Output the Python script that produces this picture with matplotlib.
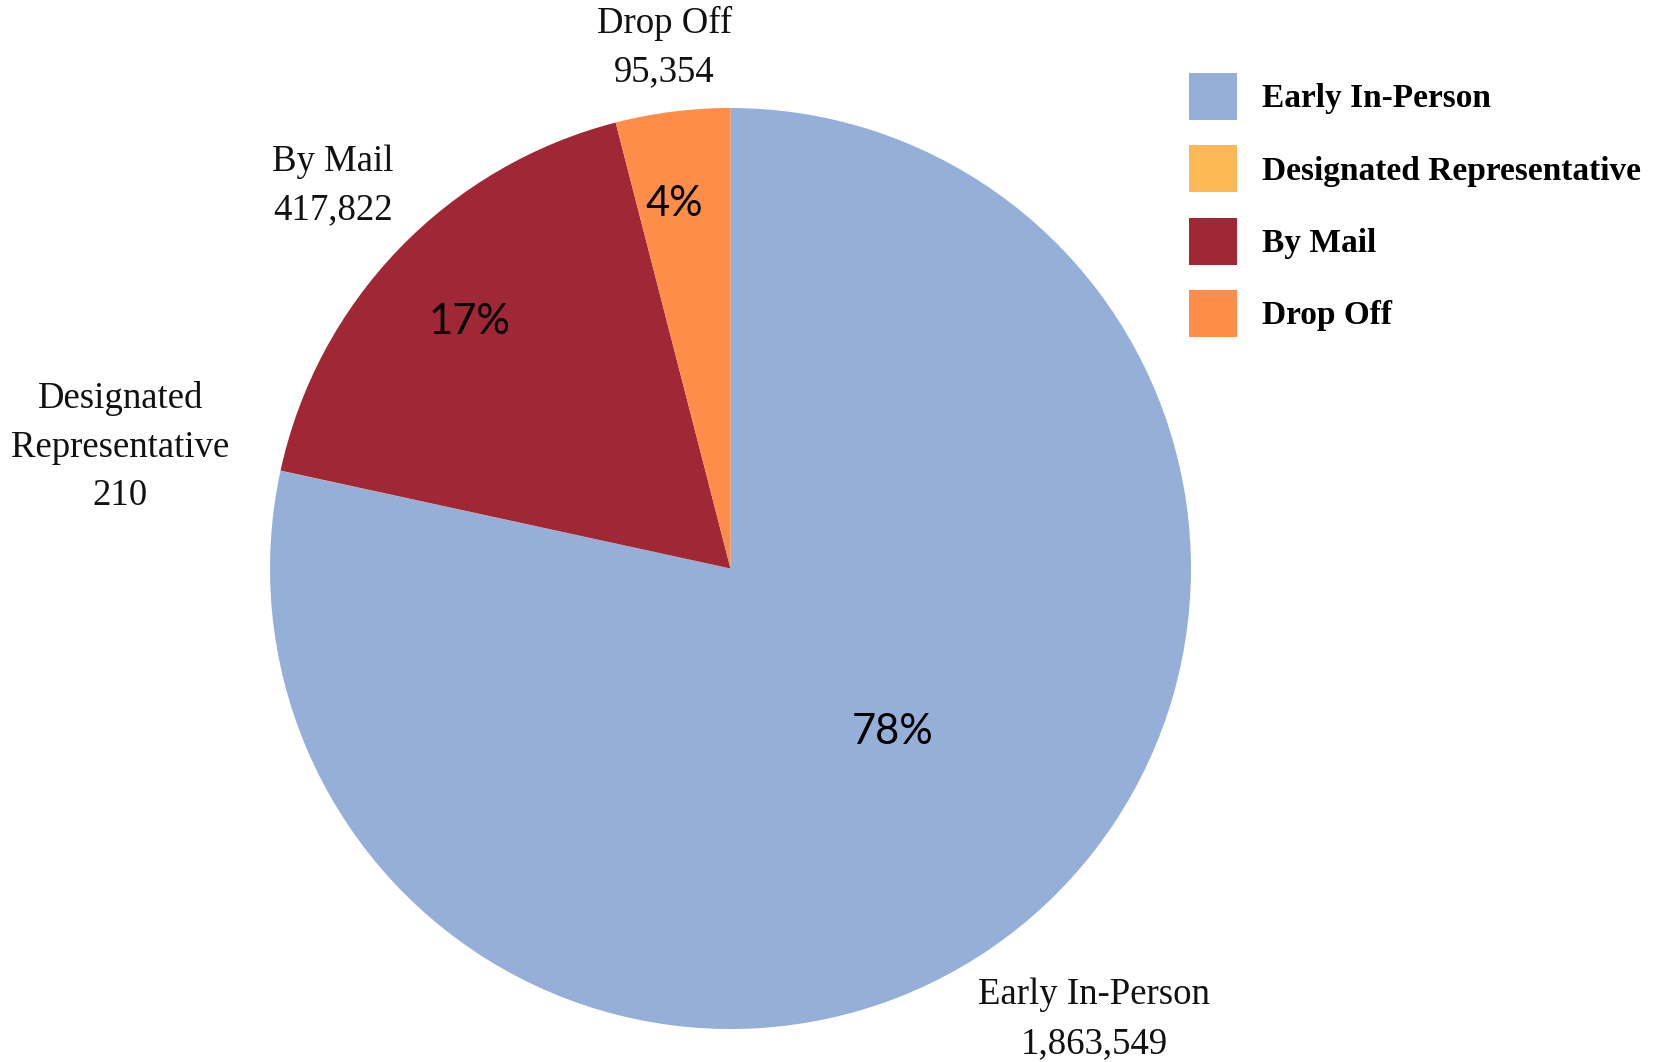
import numpy as np
import matplotlib
matplotlib.use("Agg")
import matplotlib.pyplot as plt

# data
categories = ["Early In-Person", "Designated Representative", "By Mail", "Drop Off"]
ballots = [1863549, 210, 417822, 95354]
colors = ["#95AFD8", "#FEB957", "#A02836", "#FD8D48"]

# label text per slice (outside) and percent labels (inside)
outer_text = ["Early In-Person", "Designated\nRepresentative", "By Mail", "Drop Off"]
outer_dist = [1.258, 1.351, 1.199, 1.14]
outer_shift = [0, 1.0, 0, 0]      # degrees
pct_dist = [0.50, None, 0.78, 0.80]
pct_shift = [6.0, 0, 0.5, 1.5]    # degrees

W, H = 1660, 1062
fig = plt.figure(figsize=(W / 100, H / 100), dpi=100)
ax = fig.add_axes([0, 0, 1, 1])

cx, cy, r = 730.5, H - 568.5, 460.5
wedges, _ = ax.pie(ballots, colors=colors, startangle=90, counterclock=False,
                   center=(cx, cy), radius=r,
                   wedgeprops=dict(linewidth=0))
ax.set_xlim(0, W)
ax.set_ylim(0, H)
ax.set_aspect("auto")
ax.axis("off")

total = sum(ballots)
for w, txt, v, d, s, pd_, ps in zip(wedges, outer_text, ballots, outer_dist,
                                    outer_shift, pct_dist, pct_shift):
    mid_deg = (w.theta1 + w.theta2) / 2
    a = np.deg2rad(mid_deg + s)
    ax.text(cx + d * r * np.cos(a), cy + d * r * np.sin(a), f"{txt}\n{v:,}",
            ha="center", va="center", fontsize=26.5, family="Liberation Serif",
            linespacing=1.53, color="#111111")
    if pd_ is not None:
        a = np.deg2rad(mid_deg + ps)
        ax.text(cx + pd_ * r * np.cos(a), cy + pd_ * r * np.sin(a),
                f"{int(v / total * 100)}%", ha="center", va="center",
                fontsize=30, family="Lato", color="black")

leg = ax.legend(wedges, categories, loc="upper left",
                bbox_to_anchor=(1189 / W, 1 - 73 / H), bbox_transform=fig.transFigure,
                frameon=False, borderpad=0, borderaxespad=0,
                handlelength=1.44, handleheight=1.79, handletextpad=0.75,
                labelspacing=0.76,
                prop={"family": "Liberation Serif", "weight": "bold", "size": 24})

fig.savefig("out.png", dpi=100, facecolor="white")
